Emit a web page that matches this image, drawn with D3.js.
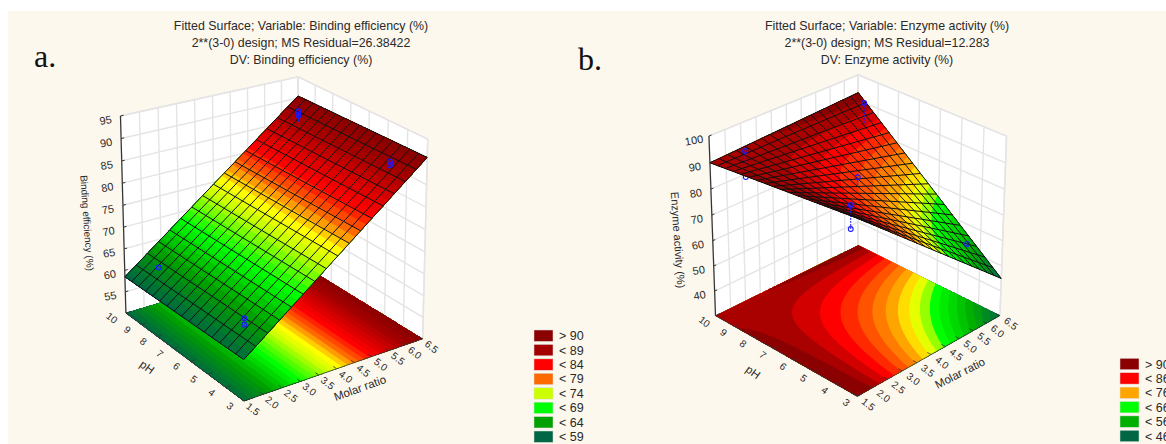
<!DOCTYPE html>
<html>
<head>
<meta charset="utf-8">
<script src="https://cdn.jsdelivr.net/npm/d3@7.9.0/dist/d3.min.js"></script>
<style>
  html, body { margin: 0; padding: 0; background: #fff; overflow: hidden; }
  text { font-family: "Liberation Sans", Arial, sans-serif; fill: #2a2a2a; }
  .panel-letter { font-family: "Liberation Serif", "Times New Roman", serif; font-size: 32px; fill: #111; }
</style>
</head>
<body>
<svg id="chart" width="1166" height="444"></svg>
<script>
const phTicks = [3, 4, 5, 6, 7, 8, 9, 10];
const molarTicks = [1.5, 2, 2.5, 3, 3.5, 4, 4.5, 5, 5.5, 6, 6.5];
const zTicksA = [55, 60, 65, 70, 75, 80, 85, 90, 95];
const zTicksB = [40, 50, 60, 70, 80, 90, 100];

// surface height at the plot corners, rows pH 3 / pH 10, columns molar 1.5 / 6.5
const cornersA = [[59, 91], [58.5, 90.5]];
const cornersB = [[96, 45], [90, 93]];

// observed points: pH, molar ratio, response
const obsPhA = [9, 9, 4, 4, 9, 4, 4];
const obsMolarA = [6, 6, 6, 6, 2, 2, 2];
const obsValueA = [89.8, 88.8, 88.9, 88.1, 62, 63.8, 62.4];
const obsPhB = [9, 9, 9, 6.5, 4, 4, 4];
const obsMolarB = [2, 2, 6, 4, 2, 2, 6];
const obsValueB = [95.5, 85.7, 94.5, 84.5, 94.2, 85.5, 57.5];

const legendLabelsA = ['> 90', '< 89', '< 84', '< 79', '< 74', '< 69', '< 64', '< 59'];
const legendValuesA = [91, 88, 82, 79, 74, 69, 64, 59];
const legendLabelsB = ['> 90', '< 86', '< 76', '< 66', '< 56', '< 46'];
const legendValuesB = [93, 86, 76, 66, 56, 46];

const colorStopsA = [59, 64, 69, 74, 76, 79, 82, 88, 91];
const colorRangeA = ['#006644', '#00a000', '#00ff00', '#ccff00', '#ffff00', '#ff6a00', '#ff0000', '#a50000', '#8b0000'];
const colorStopsB = [46, 56, 66, 69, 72, 76, 86, 90, 93];
const colorRangeB = ['#006644', '#00b000', '#00ff00', '#b4ff00', '#ffff00', '#ffa500', '#ff0000', '#b80000', '#8b0000'];

const GRID = 160;
const svg = d3.select('#chart');

svg.append('rect').attr('x', 8).attr('y', 11).attr('width', 1158).attr('height', 433).attr('fill', '#fdf8ee');

// least squares fit of a projective camera to known box corners on screen
function fitCamera(anchors) {
  const A = d3.range(11).map(() => new Array(12).fill(0));
  const addRow = (row, rhs) => {
    for (let i = 0; i < 11; i++) {
      for (let j = 0; j < 11; j++) A[i][j] += row[i] * row[j];
      A[i][11] += row[i] * rhs;
    }
  };
  anchors.forEach(([x, y, z, sx, sy]) => {
    addRow([x, y, z, 1, 0, 0, 0, 0, -sx * x, -sx * y, -sx * z], sx);
    addRow([0, 0, 0, 0, x, y, z, 1, -sy * x, -sy * y, -sy * z], sy);
  });
  for (let c = 0; c < 11; c++) {
    let best = c;
    for (let r = c + 1; r < 11; r++) if (Math.abs(A[r][c]) > Math.abs(A[best][c])) best = r;
    [A[c], A[best]] = [A[best], A[c]];
    for (let r = 0; r < 11; r++) {
      if (r === c) continue;
      const f = A[r][c] / A[c][c];
      for (let k = c; k < 12; k++) A[r][k] -= f * A[c][k];
    }
  }
  const p = A.map((row, i) => row[11] / row[i]);
  return (x, y, z) => {
    const w = p[8] * x + p[9] * y + p[10] * z + 1;
    return [(p[0] * x + p[1] * y + p[2] * z + p[3]) / w, (p[4] * x + p[5] * y + p[6] * z + p[7]) / w];
  };
}

function drawPanel(cfg) {
  const g = svg.append('g');
  const mx = d3.scaleLinear().domain([1.5, 6.5]).range([0, 1]);
  const py = d3.scaleLinear().domain([3, 10]).range([0, 1]);
  const zs = d3.scaleLinear().domain(cfg.zDomain).range([0, 1]);
  const camera = fitCamera(cfg.box);
  const project = (molar, ph, z) => camera(mx(molar), py(ph), zs(z));
  const line = d3.line();
  const seg = (a, b) => line([a, b]);

  const color = d3.scaleLinear().domain(cfg.colorStops).range(cfg.colorRange).clamp(true);
  const [[c00, c10], [c01, c11]] = cfg.corners;
  const height = (u, v) => c00 * (1 - u) * (1 - v) + c10 * u * (1 - v) + c01 * (1 - u) * v + c11 * u * v;

  // walls
  const [zLo, zHi] = cfg.zDomain;
  const walls = g.append('g');
  [[[1.5, 10], [6.5, 10]], [[6.5, 10], [6.5, 3]]].forEach(([a, b]) => {
    walls.append('path')
      .attr('d', line([project(a[0], a[1], zLo), project(b[0], b[1], zLo), project(b[0], b[1], zHi), project(a[0], a[1], zHi)]) + 'Z')
      .attr('fill', '#fff').attr('stroke', '#e6e6e6').attr('stroke-width', 1.5);
  });
  const gridLine = d => walls.append('path').attr('d', d).attr('stroke', '#e4e4e4').attr('stroke-width', 1.4).attr('fill', 'none');
  molarTicks.forEach(m => gridLine(seg(project(m, 10, zLo), project(m, 10, zHi))));
  phTicks.forEach(p => gridLine(seg(project(6.5, p, zLo), project(6.5, p, zHi))));
  cfg.zTicks.forEach(z => {
    gridLine(seg(project(1.5, 10, z), project(6.5, 10, z)));
    gridLine(seg(project(6.5, 10, z), project(6.5, 3, z)));
  });

  // contour bands, shared by the floor and the surface
  const values = new Float64Array(GRID * GRID);
  for (let j = 0; j < GRID; j++) {
    for (let i = 0; i < GRID; i++) values[j * GRID + i] = height((i + 0.5) / GRID, (j + 0.5) / GRID);
  }
  const bands = d3.contours().size([GRID, GRID]).thresholds(cfg.levels)(values);
  const pathOn = zAt => d3.geoPath(d3.geoTransform({
    point(x, y) {
      const p = camera(x / GRID, y / GRID, zs(zAt(x / GRID, y / GRID)));
      this.stream.point(p[0], p[1]);
    }
  }));
  const bandColor = b => color(b.value + cfg.levelStep);

  const floorPath = pathOn(() => zLo);
  g.append('g').selectAll('path').data(bands).join('path')
    .attr('d', floorPath).attr('fill', bandColor);

  // axis lines and ticks
  const axes = g.append('g').attr('stroke', '#333').attr('fill', 'none');
  axes.append('path').attr('d', seg(project(1.5, 10, zLo), project(1.5, 10, zHi))).attr('stroke-width', 1.2);
  axes.append('path').attr('d', seg(project(1.5, 10, zLo), project(1.5, 3, zLo))).attr('stroke-width', 0.8);
  axes.append('path').attr('d', seg(project(1.5, 3, zLo), project(6.5, 3, zLo))).attr('stroke-width', 0.8);
  phTicks.forEach(p => axes.append('path').attr('d', seg(project(1.5, p, zLo), project(1.62, p, zLo))).attr('stroke-width', 0.8));
  molarTicks.forEach(m => axes.append('path').attr('d', seg(project(m, 3, zLo), project(m, 3.18, zLo))).attr('stroke-width', 0.8));
  cfg.zTicks.forEach(z => axes.append('path').attr('d', seg(project(1.5, 10, z), project(1.58, 10, z))).attr('stroke-width', 1));

  // observed points
  const obs = cfg.obsPh.map((p, i) => {
    const m = cfg.obsMolar[i], value = cfg.obsValue[i];
    return { p, m, value, fit: height(mx(m), py(p)) };
  });
  const drawObs = (parent, pts) => {
    const sel = parent.append('g');
    pts.forEach(d => {
      sel.append('path').attr('d', seg(project(d.m, d.p, d.value), project(d.m, d.p, d.fit)))
        .attr('stroke', '#1a1aff').attr('stroke-width', 1).attr('stroke-dasharray', '2 1').attr('fill', 'none');
      const c = project(d.m, d.p, d.value);
      sel.append('circle').attr('cx', c[0]).attr('cy', c[1]).attr('r', 2.4)
        .attr('fill', 'none').attr('stroke', '#1a1aff').attr('stroke-width', 1.1);
    });
  };
  drawObs(g, obs.filter(d => d.value < d.fit));

  // surface
  const surfacePath = pathOn(height);
  g.append('g').selectAll('path').data(bands).join('path')
    .attr('d', surfacePath).attr('fill', bandColor);
  const mesh = g.append('g').attr('stroke', '#111').attr('stroke-width', 1).attr('fill', 'none');
  d3.range(cfg.mesh + 1).forEach(k => {
    const t = k / cfg.mesh;
    mesh.append('path').attr('d', seg(camera(t, 0, zs(height(t, 0))), camera(t, 1, zs(height(t, 1)))));
    mesh.append('path').attr('d', seg(camera(0, t, zs(height(0, t))), camera(1, t, zs(height(1, t)))));
  });
  drawObs(g, obs.filter(d => d.value >= d.fit));

  // tick labels
  const label = (txt, x, y, rot, size) => g.append('text')
    .attr('transform', `translate(${x},${y}) rotate(${rot})`)
    .attr('text-anchor', 'middle').attr('dominant-baseline', 'central')
    .attr('font-size', size).text(txt);
  cfg.zTicks.forEach(z => {
    const p = project(1.5, 10, z);
    label(z, p[0] + cfg.zLabelDx, p[1] + 4, -10, 11);
  });
  phTicks.forEach(v => {
    const p = project(1.5, v, zLo);
    label(v, p[0] + cfg.phOffset[0], p[1] + cfg.phOffset[1], 38, 10);
  });
  molarTicks.forEach(v => {
    const p = project(v, 3, zLo);
    label(v.toFixed(1), p[0] + cfg.molarOffset[0], p[1] + cfg.molarOffset[1], 38, 10);
  });

  // axis titles
  label(cfg.zTitle, cfg.zTitlePos[0], cfg.zTitlePos[1], 86, cfg.zTitleSize);
  label('pH', cfg.phTitlePos[0], cfg.phTitlePos[1], 36, 11.5);
  label('Molar ratio', cfg.molarTitlePos[0], cfg.molarTitlePos[1], cfg.molarTitleRot, 11.5);

  // figure title
  cfg.title.forEach((t, i) => {
    g.append('text').attr('x', cfg.titleX).attr('y', 30 + i * 17)
      .attr('text-anchor', 'middle').attr('font-size', 12.4).text(t);
  });
  g.append('text').attr('class', 'panel-letter').attr('x', cfg.letterPos[0]).attr('y', cfg.letterPos[1]).text(cfg.letter);

  // legend
  const rows = d3.scalePoint().domain(cfg.legendLabels).range(cfg.legendRange);
  const legend = g.append('g');
  cfg.legendLabels.forEach((t, i) => {
    legend.append('rect').attr('x', cfg.legendX).attr('y', rows(t) - 5.7).attr('width', 19).attr('height', 11.4)
      .attr('fill', color(cfg.legendValues[i])).attr('stroke', '#ddd').attr('stroke-width', 0.5);
    legend.append('text').attr('x', cfg.legendX + 25).attr('y', rows(t) + 4.5).attr('font-size', 12.5).text(t);
  });
}

drawPanel({
  letter: 'a.', letterPos: [34, 67],
  title: ['Fitted Surface; Variable: Binding efficiency (%)', '2**(3-0) design; MS Residual=26.38422', 'DV: Binding efficiency (%)'],
  titleX: 301,
  zDomain: [50, 95], zTicks: zTicksA,
  corners: cornersA, mesh: 16,
  levels: d3.range(40, 94, 1), levelStep: 1,
  colorStops: colorStopsA, colorRange: colorRangeA,
  // mol frac, pH frac, z frac, screen x, screen y
  box: [
    [0, 1, 0, 126, 313], [0, 0, 0, 244, 402], [1, 0, 0, 422, 339], [1, 1, 0, 298, 261],
    [0, 1, 1, 120, 119], [0, 0, 1, 243, 183], [1, 0, 1, 428, 142], [1, 1, 1, 298, 75]
  ],
  obsPh: obsPhA, obsMolar: obsMolarA, obsValue: obsValueA,
  zLabelDx: -15, phOffset: [-14, 5], molarOffset: [9, 8],
  zTitle: 'Binding efficiency (%)', zTitlePos: [87, 223], zTitleSize: 10,
  phTitlePos: [147, 367], molarTitlePos: [360, 388], molarTitleRot: -20,
  legendLabels: legendLabelsA, legendValues: legendValuesA, legendX: 534, legendRange: [335.7, 436.7]
});

drawPanel({
  letter: 'b.', letterPos: [578, 70],
  title: ['Fitted Surface; Variable: Enzyme activity (%)', '2**(3-0) design; MS Residual=12.283', 'DV: Enzyme activity (%)'],
  titleX: 887,
  zDomain: [30, 100], zTicks: zTicksB,
  corners: cornersB, mesh: 18,
  levels: d3.range(31, 100, 2.5), levelStep: 2.5,
  colorStops: colorStopsB, colorRange: colorRangeB,
  box: [
    [0, 1, 0, 716, 316], [0, 0, 0, 857, 397], [1, 0, 0, 1000, 315], [1, 1, 0, 858, 245],
    [0, 1, 1, 709, 137], [0, 0, 1, 857, 205], [1, 0, 1, 1007, 138], [1, 1, 1, 858, 74]
  ],
  obsPh: obsPhB, obsMolar: obsMolarB, obsValue: obsValueB,
  zLabelDx: -15, phOffset: [-11, 6], molarOffset: [11, 8],
  zTitle: 'Enzyme activity (%)', zTitlePos: [678, 240], zTitleSize: 11,
  phTitlePos: [753, 372], molarTitlePos: [960, 373], molarTitleRot: -27,
  legendLabels: legendLabelsB, legendValues: legendValuesB, legendX: 1120, legendRange: [364, 436]
});
</script>
</body>
</html>
